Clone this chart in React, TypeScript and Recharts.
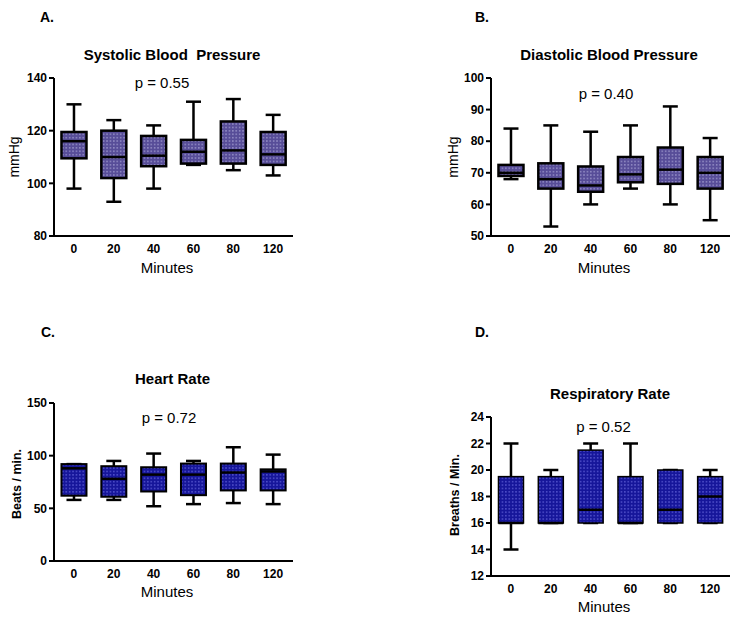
import React from "react";
import { ComposedChart, Bar, XAxis, YAxis } from "recharts";

const minutes = ["0", "20", "40", "60", "80", "120"];

// A. Systolic blood pressure
const sbpMin = [98, 93, 98, 107, 105, 103];
const sbpQ1 = [109.5, 102, 106.5, 107.5, 107.5, 107];
const sbpMed = [116, 110, 110.5, 112, 112.5, 111];
const sbpQ3 = [119.5, 120, 118, 116.5, 123.5, 119.5];
const sbpMax = [130, 124, 122, 131, 132, 126];
const sbpTicks = [80, 100, 120, 140];

// B. Diastolic blood pressure
const dbpMin = [68, 53, 60, 65, 60, 55];
const dbpQ1 = [69, 65, 64, 67, 66.5, 65];
const dbpMed = [70, 68, 66, 69.5, 71, 70];
const dbpQ3 = [72.5, 73, 72, 75, 78, 75];
const dbpMax = [84, 85, 83, 85, 91, 81];
const dbpTicks = [50, 60, 70, 80, 90, 100];

// C. Heart rate
const hrMin = [58, 58, 52, 54, 55, 54];
const hrQ1 = [62, 61, 66, 62.5, 67, 67];
const hrMed = [88, 78, 82, 82, 84, 85];
const hrQ3 = [92, 90, 89, 92.5, 92.5, 87];
const hrMax = [92, 95, 102, 95, 108, 101];
const hrTicks = [0, 50, 100, 150];

// D. Respiratory rate
const rrMin = [14, 16, 16, 16, 16, 16];
const rrQ1 = [16, 16, 16, 16, 16, 16];
const rrMed = [16, 16, 17, 16, 17, 18];
const rrQ3 = [19.5, 19.5, 21.5, 19.5, 20, 19.5];
const rrMax = [22, 20, 22, 22, 20, 20];
const rrTicks = [12, 14, 16, 18, 20, 22, 24];

function buildRows(lo: number[], q1: number[], med: number[], q3: number[], hi: number[]) {
  return minutes.map((m, i) => ({
    m,
    lo: lo[i],
    q1: q1[i],
    med: med[i],
    q3: q3[i],
    hi: hi[i],
    range: [lo[i], hi[i]],
  }));
}

const FONT = "'Liberation Sans', Arial, Helvetica, sans-serif";

function makeShape(fillId: string, boxStroke: number) {
  return (props: any) => {
    const { x, y, width, height, payload } = props;
    if (payload == null || height == null) return <g />;
    const { lo, q1, med, q3, hi } = payload;
    const span = hi - lo;
    const toY = (v: number) => y + ((hi - v) * height) / span;
    const cx = x + width / 2;
    const bw = 25;
    const cw = 15;
    const yHi = toY(hi);
    const yLo = toY(lo);
    const yQ3 = toY(q3);
    const yQ1 = toY(q1);
    const yMed = toY(med);
    return (
      <g>
        <line x1={cx} x2={cx} y1={yHi} y2={yQ3} stroke="#000" strokeWidth={2.5} />
        <line x1={cx} x2={cx} y1={yQ1} y2={yLo} stroke="#000" strokeWidth={2.5} />
        <line x1={cx - cw / 2} x2={cx + cw / 2} y1={yHi} y2={yHi} stroke="#000" strokeWidth={2.5} />
        <line x1={cx - cw / 2} x2={cx + cw / 2} y1={yLo} y2={yLo} stroke="#000" strokeWidth={2.5} />
        <rect
          x={cx - bw / 2}
          y={yQ3}
          width={bw}
          height={Math.max(yQ1 - yQ3, 0)}
          fill={`url(#${fillId})`}
          stroke="#000"
          strokeWidth={boxStroke}
        />
        <line x1={cx - bw / 2} x2={cx + bw / 2} y1={yMed} y2={yMed} stroke="#000" strokeWidth={2.5} />
      </g>
    );
  };
}

type PanelProps = {
  left: number;
  top: number;
  width: number;
  height: number;
  margin: { top: number; right: number; bottom: number; left: number };
  rows: any[];
  domain: [number, number];
  ticks: number[];
  fillId: string;
  boxStroke: number;
};

function Panel(p: PanelProps) {
  const tickStyle = { fontSize: 12, fontWeight: 700, fill: "#000", fontFamily: FONT };
  return (
    <div style={{ position: "absolute", left: p.left, top: p.top }}>
      <ComposedChart width={p.width} height={p.height} data={p.rows} margin={p.margin}>
        <XAxis
          dataKey="m"
          type="category"
          tickLine={false}
          axisLine={{ stroke: "#000", strokeWidth: 2 }}
          tick={tickStyle}
          height={30}
          interval={0}
        />
        <YAxis
          type="number"
          domain={p.domain}
          ticks={p.ticks}
          allowDataOverflow
          width={40}
          tickSize={5}
          tickMargin={2}
          tickLine={{ stroke: "#000", strokeWidth: 2 }}
          axisLine={{ stroke: "#000", strokeWidth: 2 }}
          tick={tickStyle}
        />
        <Bar dataKey="range" isAnimationActive={false} shape={makeShape(p.fillId, p.boxStroke)} />
      </ComposedChart>
    </div>
  );
}

const sbpRows = buildRows(sbpMin, sbpQ1, sbpMed, sbpQ3, sbpMax);
const dbpRows = buildRows(dbpMin, dbpQ1, dbpMed, dbpQ3, dbpMax);
const hrRows = buildRows(hrMin, hrQ1, hrMed, hrQ3, hrMax);
const rrRows = buildRows(rrMin, rrQ1, rrMed, rrQ3, rrMax);

export default function App() {
  const title = { fontFamily: FONT, fontSize: 15, fontWeight: 700, fill: "#000" } as const;
  const letter = { fontFamily: FONT, fontSize: 14, fontWeight: 700, fill: "#000" } as const;
  const pval = { fontFamily: FONT, fontSize: 15, fill: "#000" } as const;
  const minutesStyle = { fontFamily: FONT, fontSize: 15, fill: "#000" } as const;
  const yLabA = { fontFamily: FONT, fontSize: 14, fill: "#000" } as const;
  const yLabC = { fontFamily: FONT, fontSize: 12.5, fontWeight: 700, fill: "#000" } as const;
  return (
    <div
      style={{
        position: "absolute",
        left: 0,
        top: 0,
        width: 750,
        height: 621,
        background: "#fff",
        fontFamily: FONT,
        overflow: "hidden",
      }}
    >
      <svg width={0} height={0} style={{ position: "absolute" }}>
        <defs>
          <pattern id="dotsPurple" width={3.4} height={3.4} patternUnits="userSpaceOnUse">
            <rect width={3.4} height={3.4} fill="#574d98" />
            <rect x={1} y={1} width={1.3} height={1.3} fill="#a8a3d4" />
          </pattern>
          <pattern id="dotsBlue" width={3.4} height={3.4} patternUnits="userSpaceOnUse">
            <rect width={3.4} height={3.4} fill="#16169a" />
            <rect x={1} y={1} width={1.3} height={1.3} fill="#6565dc" />
          </pattern>
        </defs>
      </svg>

      <Panel
        left={0}
        top={0}
        width={375}
        height={310}
        margin={{ top: 78, right: 82, bottom: 44, left: 14 }}
        rows={sbpRows}
        domain={[80, 140]}
        ticks={sbpTicks}
        fillId="dotsPurple"
        boxStroke={2.5}
      />
      <Panel
        left={375}
        top={0}
        width={375}
        height={310}
        margin={{ top: 78, right: 20, bottom: 44, left: 76 }}
        rows={dbpRows}
        domain={[50, 100]}
        ticks={dbpTicks}
        fillId="dotsPurple"
        boxStroke={2.5}
      />
      <Panel
        left={0}
        top={310}
        width={375}
        height={311}
        margin={{ top: 93, right: 82, bottom: 30, left: 14 }}
        rows={hrRows}
        domain={[0, 150]}
        ticks={hrTicks}
        fillId="dotsBlue"
        boxStroke={2}
      />
      <Panel
        left={375}
        top={310}
        width={375}
        height={311}
        margin={{ top: 107, right: 20, bottom: 15, left: 76 }}
        rows={rrRows}
        domain={[12, 24]}
        ticks={rrTicks}
        fillId="dotsBlue"
        boxStroke={1.5}
      />

      <svg
        width={750}
        height={621}
        style={{ position: "absolute", left: 0, top: 0, pointerEvents: "none" }}
      >
        {/* Panel A */}
        <text x={40} y={22} style={letter}>A.</text>
        <text x={172} y={60} textAnchor="middle" style={{ ...title, whiteSpace: "pre" }}>
          Systolic Blood  Pressure
        </text>
        <text x={162} y={88} textAnchor="middle" style={pval}>p = 0.55</text>
        <text x={167} y={273} textAnchor="middle" style={minutesStyle}>Minutes</text>
        <text x={19} y={157} textAnchor="middle" transform="rotate(-90 19 157)" style={yLabA}>mmHg</text>

        {/* Panel B */}
        <text x={475} y={22} style={letter}>B.</text>
        <text x={609} y={60} textAnchor="middle" style={title}>Diastolic Blood Pressure</text>
        <text x={606} y={99} textAnchor="middle" style={pval}>p = 0.40</text>
        <text x={604} y={273} textAnchor="middle" style={minutesStyle}>Minutes</text>
        <text x={458} y={157} textAnchor="middle" transform="rotate(-90 458 157)" style={yLabA}>mmHg</text>

        {/* Panel C */}
        <text x={41} y={337} style={letter}>C.</text>
        <text x={172.5} y={384} textAnchor="middle" style={title}>Heart Rate</text>
        <text x={169} y={423} textAnchor="middle" style={pval}>p = 0.72</text>
        <text x={167} y={597} textAnchor="middle" style={minutesStyle}>Minutes</text>
        <text x={21} y={484} textAnchor="middle" transform="rotate(-90 21 484)" style={yLabC}>Beats / min.</text>

        {/* Panel D */}
        <text x={475} y={337} style={letter}>D.</text>
        <text x={610} y={399} textAnchor="middle" style={title}>Respiratory Rate</text>
        <text x={603.5} y={432} textAnchor="middle" style={pval}>p = 0.52</text>
        <text x={604} y={612} textAnchor="middle" style={minutesStyle}>Minutes</text>
        <text x={459} y={495} textAnchor="middle" transform="rotate(-90 459 495)" style={yLabC}>Breaths / Min.</text>
      </svg>
    </div>
  );
}
